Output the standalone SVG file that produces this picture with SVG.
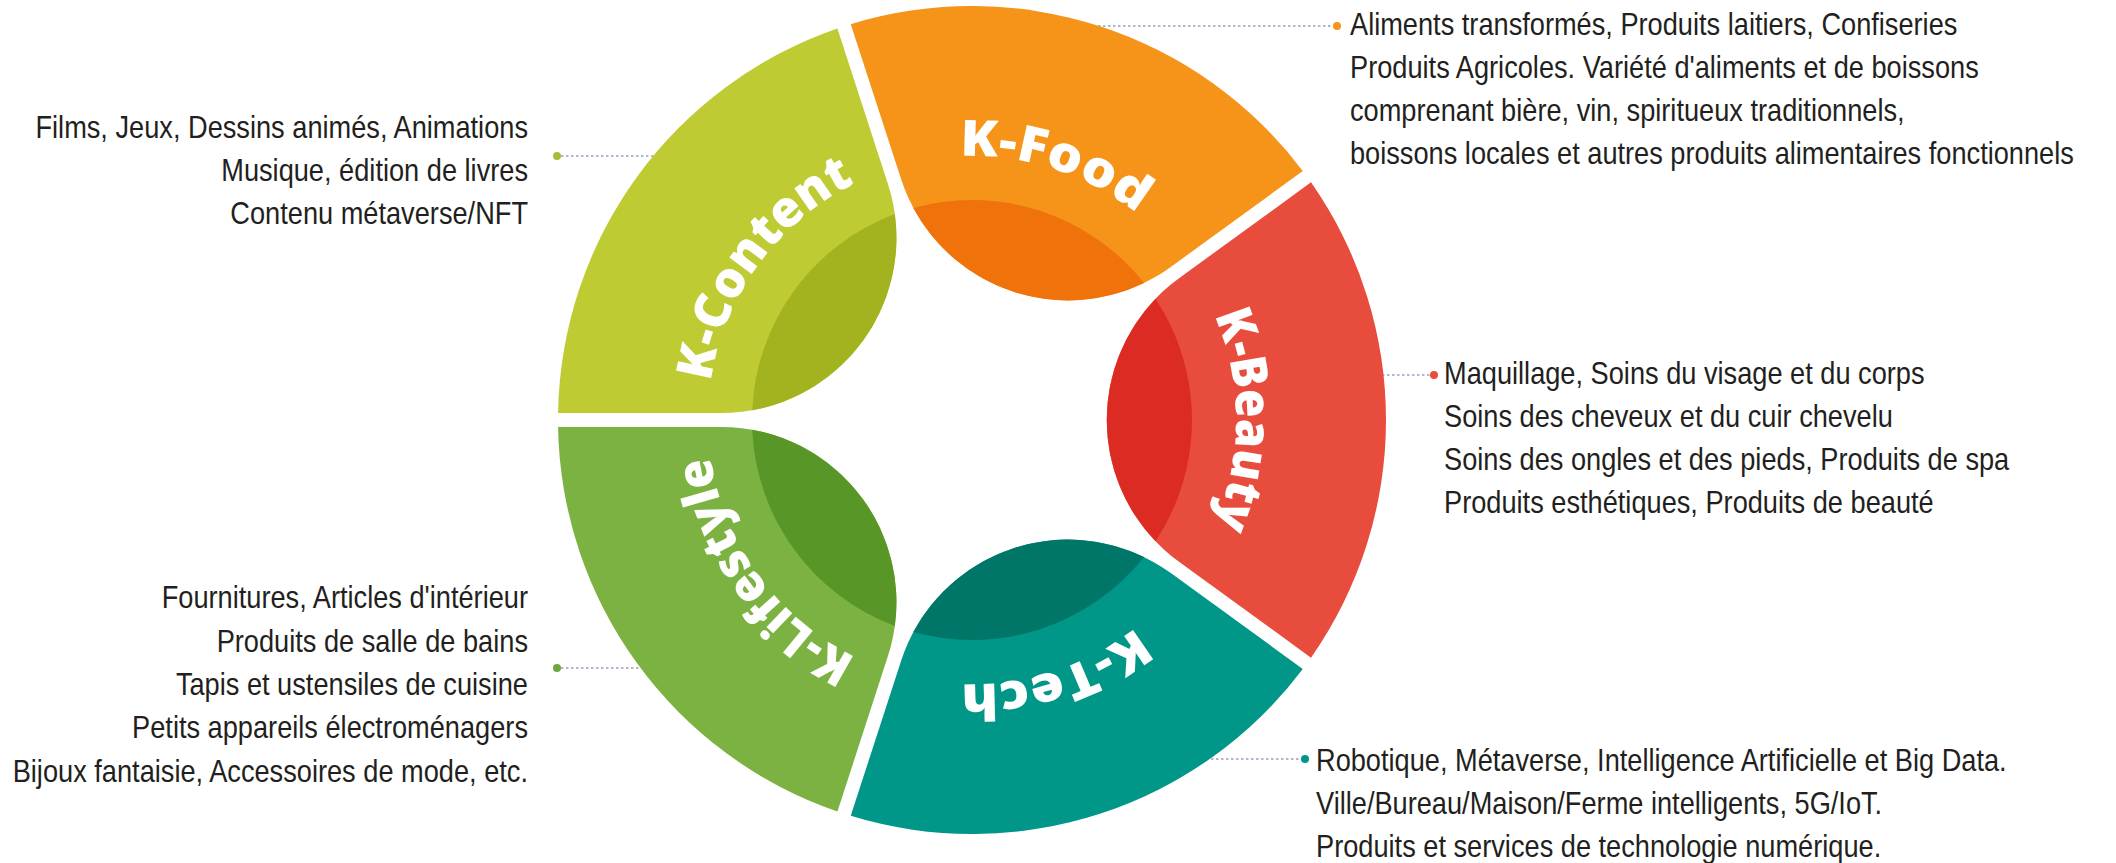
<svg xmlns="http://www.w3.org/2000/svg" xmlns:xlink="http://www.w3.org/1999/xlink" width="2116" height="863" viewBox="0 0 2116 863">
<style>
.lbl{font-family:"Open Sans","DejaVu Sans",sans-serif;font-weight:800;font-size:50px;fill:#ffffff}
.desc{font-family:"Liberation Sans","Open Sans",sans-serif;font-size:27.2px;fill:#231f20}
.conn{stroke:#9a9fbd;stroke-width:1.5;stroke-dasharray:2.5 2.5;fill:none}
</style>
<defs>
<path id="seg" d="M338.99,-237.65 A414,414 0 0 1 338.99,237.65 L207,141.75 A175.22,175.22 0 0 1 207,-141.75 Z"/>
<path id="lens" d="M183.55,-121.29 A220,220 0 0 1 183.55,121.29 A175.22,175.22 0 0 1 183.55,-121.29 Z"/>
<path id="arcText" d="M0,-264 A264,264 0 0 1 0,264"/>
</defs>
<rect width="2116" height="863" fill="#ffffff"/>

<g id="connectors">
<line class="conn" x1="561" y1="156" x2="656" y2="156"/>
<circle cx="557" cy="156" r="4" fill="#a5bf33"/>
<line class="conn" x1="1098" y1="26" x2="1333" y2="26"/>
<circle cx="1337" cy="26" r="4" fill="#f7941d"/>
<line class="conn" x1="1382" y1="375" x2="1430" y2="375"/>
<circle cx="1434" cy="375" r="4" fill="#e84c3d"/>
<line class="conn" x1="1211" y1="759" x2="1301" y2="759"/>
<circle cx="1305" cy="759" r="4" fill="#009688"/>
<line class="conn" x1="561" y1="668" x2="642" y2="668"/>
<circle cx="557" cy="668" r="4" fill="#6aa83f"/>
</g>

<g id="k-content" transform="translate(972,420) rotate(-144)">
<use href="#seg" fill="#bfcb33"/>
<use href="#lens" fill="#a3b31f"/>
<text class="lbl" text-anchor="middle" textLength="255" lengthAdjust="spacingAndGlyphs"><textPath href="#arcText" startOffset="50%">K-Content</textPath></text>
</g>
<g id="k-food" transform="translate(972,420) rotate(-72)">
<use href="#seg" fill="#f6941a"/>
<use href="#lens" fill="#f0720a"/>
<text class="lbl" text-anchor="middle" textLength="190" lengthAdjust="spacingAndGlyphs"><textPath href="#arcText" startOffset="50%">K-Food</textPath></text>
</g>
<g id="k-beauty" transform="translate(972,420)">
<use href="#seg" fill="#e84c3d"/>
<use href="#lens" fill="#dc2b22"/>
<text class="lbl" text-anchor="middle" textLength="215" lengthAdjust="spacingAndGlyphs"><textPath href="#arcText" startOffset="50%">K-Beauty</textPath></text>
</g>
<g id="k-tech" transform="translate(972,420) rotate(72)">
<use href="#seg" fill="#009688"/>
<use href="#lens" fill="#007668"/>
<text class="lbl" text-anchor="middle" textLength="188" lengthAdjust="spacingAndGlyphs"><textPath href="#arcText" startOffset="50%">K-Tech</textPath></text>
</g>
<g id="k-lifestyle" transform="translate(972,420) rotate(144)">
<use href="#seg" fill="#7cb241"/>
<use href="#lens" fill="#589628"/>
<text class="lbl" text-anchor="middle" textLength="258" lengthAdjust="spacingAndGlyphs"><textPath href="#arcText" startOffset="50%">K-Lifestyle</textPath></text>
</g>

<g id="desc-content" class="desc" text-anchor="end" transform="translate(528,138) scale(1,1.15)">
<text x="0" y="0">Films, Jeux, Dessins animés, Animations</text>
<text x="0" y="37.39">Musique, édition de livres</text>
<text x="0" y="74.78">Contenu métaverse/NFT</text>
</g>
<g id="desc-food" class="desc" transform="translate(1350,35) scale(1,1.15)">
<text x="0" y="0">Aliments transformés, Produits laitiers, Confiseries</text>
<text x="0" y="37.39">Produits Agricoles. Variété d'aliments et de boissons</text>
<text x="0" y="74.78">comprenant bière, vin, spiritueux traditionnels,</text>
<text x="0" y="112.17">boissons locales et autres produits alimentaires fonctionnels</text>
</g>
<g id="desc-beauty" class="desc" transform="translate(1444,384) scale(1,1.15)">
<text x="0" y="0">Maquillage, Soins du visage et du corps</text>
<text x="0" y="37.39">Soins des cheveux et du cuir chevelu</text>
<text x="0" y="74.78">Soins des ongles et des pieds, Produits de spa</text>
<text x="0" y="112.17">Produits esthétiques, Produits de beauté</text>
</g>
<g id="desc-tech" class="desc" transform="translate(1316,771) scale(1,1.15)">
<text x="0" y="0">Robotique, Métaverse, Intelligence Artificielle et Big Data.</text>
<text x="0" y="37.39">Ville/Bureau/Maison/Ferme intelligents, 5G/IoT.</text>
<text x="0" y="74.78">Produits et services de technologie numérique.</text>
</g>
<g id="desc-lifestyle" class="desc" text-anchor="end" transform="translate(528,608) scale(1,1.15)">
<text x="0" y="0">Fournitures, Articles d'intérieur</text>
<text x="0" y="37.83">Produits de salle de bains</text>
<text x="0" y="75.65">Tapis et ustensiles de cuisine</text>
<text x="0" y="113.48">Petits appareils électroménagers</text>
<text x="0" y="151.3">Bijoux fantaisie, Accessoires de mode, etc.</text>
</g>
</svg>
